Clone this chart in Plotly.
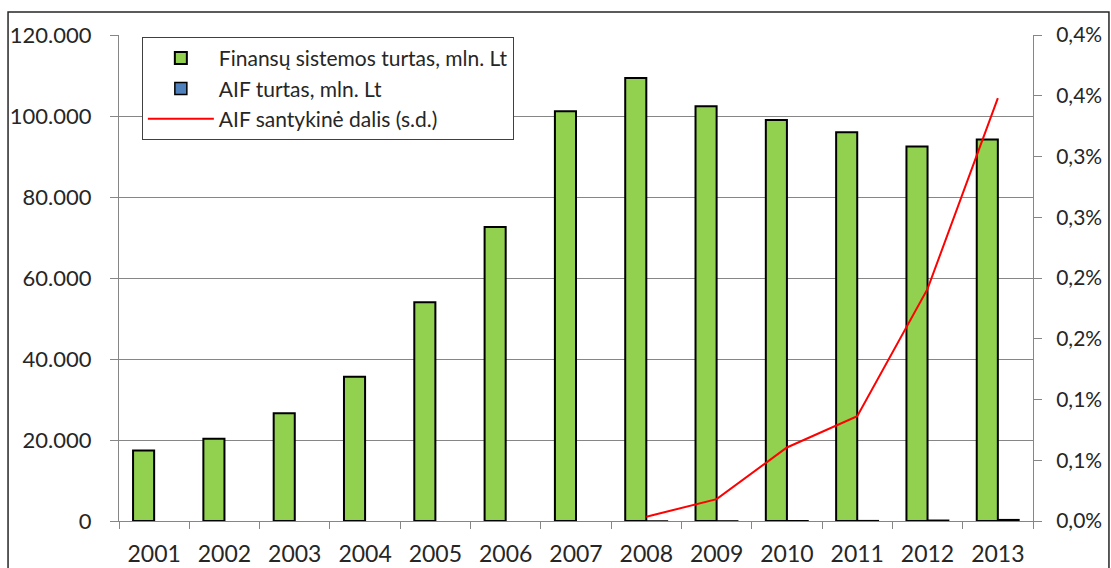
import plotly.graph_objects as go

years = ["2001", "2002", "2003", "2004", "2005", "2006", "2007",
         "2008", "2009", "2010", "2011", "2012", "2013"]
finansu_turtas = [17400, 20300, 26600, 35600, 54000, 72600, 101200,
                  109400, 102400, 99000, 96000, 92500, 94200]
aif_years = ["2008", "2009", "2010", "2011", "2012", "2013"]
aif_turtas = [4, 18, 60, 83, 177, 328]
aif_dalis = [0.0035, 0.018, 0.0605, 0.0862, 0.191, 0.348]

left_ticks = [0, 20000, 40000, 60000, 80000, 100000, 120000]
right_ticks = [0, 0.05, 0.10, 0.15, 0.20, 0.25, 0.30, 0.35, 0.40]
right_labels = ["0,0%", "0,1%", "0,1%", "0,2%", "0,2%", "0,3%", "0,3%", "0,4%", "0,4%"]

FONT = "Lato"
TXT = "#262626"
GRID = "#868686"

fig = go.Figure()
fig.add_trace(go.Bar(
    x=years, y=finansu_turtas, name="Finansų sistemos turtas, mln. Lt",
    marker=dict(color="#92D050", line=dict(color="black", width=2)),
    offsetgroup="a"))
fig.add_trace(go.Bar(
    x=aif_years, y=aif_turtas, name="AIF turtas, mln. Lt",
    marker=dict(color="#4F81BD", line=dict(color="black", width=1.5)),
    offsetgroup="b"))
fig.add_trace(go.Scatter(
    x=aif_years, y=aif_dalis, name="AIF santykinė dalis (s.d.)",
    mode="lines", line=dict(color="#FF0000", width=2), yaxis="y2"))

fig.update_layout(
    width=1111, height=568,
    margin=dict(l=119, r=78, t=35, b=47, autoexpand=False),
    paper_bgcolor="white", plot_bgcolor="white",
    separators=",.",
    barmode="group", bargap=0.40, bargroupgap=0,
    font=dict(family=FONT, size=23, color=TXT),
    showlegend=True,
    legend=dict(
        x=0.025, y=0.996, xanchor="left", yanchor="top",
        bordercolor="#404040", borderwidth=1, bgcolor="white",
        font=dict(family=FONT, size=21, color=TXT),
        traceorder="normal", itemwidth=66, tracegroupgap=0),
    xaxis=dict(
        type="category", categoryorder="array", categoryarray=years,
        showgrid=False, showline=True, linecolor=GRID, linewidth=1,
        ticks="outside", tickson="boundaries", ticklen=7, tickcolor=GRID,
        ticklabelstandoff=12,
        tickfont=dict(family=FONT, size=23, color=TXT), zeroline=False),
    yaxis=dict(
        range=[0, 120000], tickvals=left_ticks, tickformat=",d",
        showgrid=True, gridcolor=GRID, gridwidth=1,
        showline=True, linecolor=GRID, linewidth=1,
        ticks="outside", ticklen=8, tickcolor=GRID,
        ticklabelstandoff=14,
        tickfont=dict(family=FONT, size=22, color=TXT), zeroline=False),
    yaxis2=dict(
        range=[0, 0.4], overlaying="y", side="right",
        tickvals=right_ticks, ticktext=right_labels,
        showgrid=False, showline=True, linecolor=GRID, linewidth=1,
        ticks="outside", ticklen=8, tickcolor=GRID,
        ticklabelstandoff=10,
        tickfont=dict(family=FONT, size=21, color=TXT), zeroline=False),
    shapes=[dict(type="rect", xref="paper", yref="paper",
                 x0=-0.1214, x1=1.0831, y0=-0.2, y1=1.0473,
                 line=dict(color="#262626", width=1.5), layer="below")],
)

fig.write_html("out.html", config={"displayModeBar": False},
               post_script="document.body.style.margin='0px';")
